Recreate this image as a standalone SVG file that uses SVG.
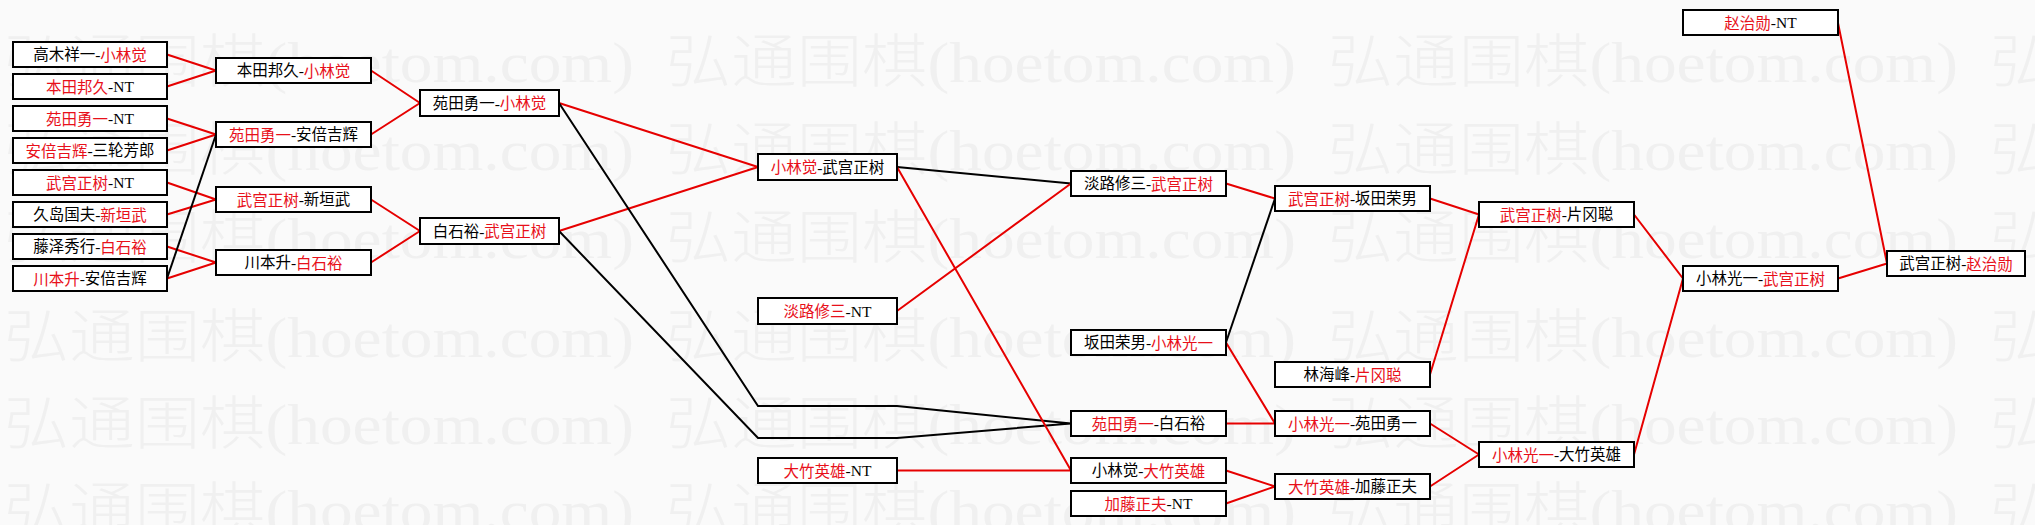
<svg xmlns="http://www.w3.org/2000/svg" width="2035" height="525" viewBox="0 0 2035 525">
<style>
.bg{fill:#fafafa}
.wm{font-family:"Liberation Serif","Noto Sans CJK SC",serif;font-size:58px;font-weight:300;fill:#f0f0f0;dominant-baseline:central}
.box{fill:#ffffff;stroke:#000;stroke-width:2}
.t{font-family:"Liberation Serif","Noto Sans CJK SC",serif;font-size:15.5px;fill:#000;text-anchor:middle;dominant-baseline:central}
.r{fill:#e8101a}
.cr{stroke:#e60000;stroke-width:2;fill:none}
.cb{stroke:#000;stroke-width:2;fill:none}
</style>
<rect class="bg" x="0" y="0" width="2035" height="525"/>
<g id="watermark">
<text class="wm" x="4" y="62" textLength="630" lengthAdjust="spacingAndGlyphs">弘通围棋(hoetom.com)</text>
<text class="wm" x="666" y="62" textLength="630" lengthAdjust="spacingAndGlyphs">弘通围棋(hoetom.com)</text>
<text class="wm" x="1328" y="62" textLength="630" lengthAdjust="spacingAndGlyphs">弘通围棋(hoetom.com)</text>
<text class="wm" x="1990" y="62" textLength="630" lengthAdjust="spacingAndGlyphs">弘通围棋(hoetom.com)</text>
<text class="wm" x="4" y="150" textLength="630" lengthAdjust="spacingAndGlyphs">弘通围棋(hoetom.com)</text>
<text class="wm" x="666" y="150" textLength="630" lengthAdjust="spacingAndGlyphs">弘通围棋(hoetom.com)</text>
<text class="wm" x="1328" y="150" textLength="630" lengthAdjust="spacingAndGlyphs">弘通围棋(hoetom.com)</text>
<text class="wm" x="1990" y="150" textLength="630" lengthAdjust="spacingAndGlyphs">弘通围棋(hoetom.com)</text>
<text class="wm" x="4" y="238" textLength="630" lengthAdjust="spacingAndGlyphs">弘通围棋(hoetom.com)</text>
<text class="wm" x="666" y="238" textLength="630" lengthAdjust="spacingAndGlyphs">弘通围棋(hoetom.com)</text>
<text class="wm" x="1328" y="238" textLength="630" lengthAdjust="spacingAndGlyphs">弘通围棋(hoetom.com)</text>
<text class="wm" x="1990" y="238" textLength="630" lengthAdjust="spacingAndGlyphs">弘通围棋(hoetom.com)</text>
<text class="wm" x="4" y="337" textLength="630" lengthAdjust="spacingAndGlyphs">弘通围棋(hoetom.com)</text>
<text class="wm" x="666" y="337" textLength="630" lengthAdjust="spacingAndGlyphs">弘通围棋(hoetom.com)</text>
<text class="wm" x="1328" y="337" textLength="630" lengthAdjust="spacingAndGlyphs">弘通围棋(hoetom.com)</text>
<text class="wm" x="1990" y="337" textLength="630" lengthAdjust="spacingAndGlyphs">弘通围棋(hoetom.com)</text>
<text class="wm" x="4" y="424" textLength="630" lengthAdjust="spacingAndGlyphs">弘通围棋(hoetom.com)</text>
<text class="wm" x="666" y="424" textLength="630" lengthAdjust="spacingAndGlyphs">弘通围棋(hoetom.com)</text>
<text class="wm" x="1328" y="424" textLength="630" lengthAdjust="spacingAndGlyphs">弘通围棋(hoetom.com)</text>
<text class="wm" x="1990" y="424" textLength="630" lengthAdjust="spacingAndGlyphs">弘通围棋(hoetom.com)</text>
<text class="wm" x="4" y="510" textLength="630" lengthAdjust="spacingAndGlyphs">弘通围棋(hoetom.com)</text>
<text class="wm" x="666" y="510" textLength="630" lengthAdjust="spacingAndGlyphs">弘通围棋(hoetom.com)</text>
<text class="wm" x="1328" y="510" textLength="630" lengthAdjust="spacingAndGlyphs">弘通围棋(hoetom.com)</text>
<text class="wm" x="1990" y="510" textLength="630" lengthAdjust="spacingAndGlyphs">弘通围棋(hoetom.com)</text>
</g>
<g id="connectors">
<path class="cr" d="M167 54.5L216 70.5M167 86.5L216 70.5M167 118.5L216 134.5M167 150.5L216 134.5M167 182.5L216 199.5M167 214.5L216 199.5M167 246.5L216 262.5M167 278.5L216 262.5"/>
<path class="cb" d="M167 278.5L216 134.5"/>
<path class="cr" d="M371 70.5L420 103M371 134.5L420 103M371 199.5L420 231M371 262.5L420 231"/>
<path class="cr" d="M559 103L758 167M559 231L758 167"/>
<path class="cb" d="M559 103L758 406L897 406L1071 423.5M559 231L758 438L897 438L1071 423.5"/>
<path class="cb" d="M897 167L1071 183.5"/>
<path class="cr" d="M897 167L1071 470.5M897 311L1071 183.5M897 470.5L1071 470.5"/>
<path class="cr" d="M1226 183.5L1275 198.5M1226 342.5L1275 423.5M1226 423.5L1275 423.5M1226 470.5L1275 486.5M1226 503.5L1275 486.5"/>
<path class="cb" d="M1226 342.5L1275 198.5"/>
<path class="cr" d="M1430 198.5L1479 214.5M1430 374.5L1479 214.5M1430 423.5L1479 454.5M1430 486.5L1479 454.5"/>
<path class="cr" d="M1634 214.5L1683 278.5M1634 454.5L1683 278.5"/>
<path class="cr" d="M1838 23L1887 263.5M1838 278.5L1887 263.5"/>
</g>
<g id="n1"><rect class="box" x="13" y="42" width="154" height="25"/><text class="t" x="90" y="54.5">高木祥一-<tspan class="r">小林觉</tspan></text></g>
<g id="n2"><rect class="box" x="13" y="74" width="154" height="25"/><text class="t" x="90" y="86.5"><tspan class="r">本田邦久</tspan>-NT</text></g>
<g id="n3"><rect class="box" x="13" y="106" width="154" height="25"/><text class="t" x="90" y="118.5"><tspan class="r">苑田勇一</tspan>-NT</text></g>
<g id="n4"><rect class="box" x="13" y="138" width="154" height="25"/><text class="t" x="90" y="150.5"><tspan class="r">安倍吉辉</tspan>-三轮芳郎</text></g>
<g id="n5"><rect class="box" x="13" y="170" width="154" height="25"/><text class="t" x="90" y="182.5"><tspan class="r">武宫正树</tspan>-NT</text></g>
<g id="n6"><rect class="box" x="13" y="202" width="154" height="25"/><text class="t" x="90" y="214.5">久岛国夫-<tspan class="r">新垣武</tspan></text></g>
<g id="n7"><rect class="box" x="13" y="234" width="154" height="25"/><text class="t" x="90" y="246.5">藤泽秀行-<tspan class="r">白石裕</tspan></text></g>
<g id="n8"><rect class="box" x="13" y="266" width="154" height="25"/><text class="t" x="90" y="278.5"><tspan class="r">川本升</tspan>-安倍吉辉</text></g>
<g id="nA"><rect class="box" x="216" y="58" width="155" height="25"/><text class="t" x="293.5" y="70.5">本田邦久-<tspan class="r">小林觉</tspan></text></g>
<g id="nB"><rect class="box" x="216" y="122" width="155" height="25"/><text class="t" x="293.5" y="134.5"><tspan class="r">苑田勇一</tspan>-安倍吉辉</text></g>
<g id="nC"><rect class="box" x="216" y="187" width="155" height="25"/><text class="t" x="293.5" y="199.5"><tspan class="r">武宫正树</tspan>-新垣武</text></g>
<g id="nD"><rect class="box" x="216" y="250" width="155" height="25"/><text class="t" x="293.5" y="262.5">川本升-<tspan class="r">白石裕</tspan></text></g>
<g id="nE"><rect class="box" x="420" y="90" width="139" height="26"/><text class="t" x="489.5" y="103">苑田勇一-<tspan class="r">小林觉</tspan></text></g>
<g id="nF"><rect class="box" x="420" y="218" width="139" height="26"/><text class="t" x="489.5" y="231">白石裕-<tspan class="r">武宫正树</tspan></text></g>
<g id="nG"><rect class="box" x="758" y="154" width="139" height="26"/><text class="t" x="827.5" y="167"><tspan class="r">小林觉</tspan>-武宫正树</text></g>
<g id="nK"><rect class="box" x="758" y="298" width="139" height="26"/><text class="t" x="827.5" y="311"><tspan class="r">淡路修三</tspan>-NT</text></g>
<g id="nN"><rect class="box" x="758" y="458" width="139" height="25"/><text class="t" x="827.5" y="470.5"><tspan class="r">大竹英雄</tspan>-NT</text></g>
<g id="nI"><rect class="box" x="1071" y="171" width="155" height="25"/><text class="t" x="1148.5" y="183.5">淡路修三-<tspan class="r">武宫正树</tspan></text></g>
<g id="nL"><rect class="box" x="1071" y="330" width="155" height="25"/><text class="t" x="1148.5" y="342.5">坂田荣男-<tspan class="r">小林光一</tspan></text></g>
<g id="nH"><rect class="box" x="1071" y="411" width="155" height="25"/><text class="t" x="1148.5" y="423.5"><tspan class="r">苑田勇一</tspan>-白石裕</text></g>
<g id="nJ"><rect class="box" x="1071" y="458" width="155" height="25"/><text class="t" x="1148.5" y="470.5">小林觉-<tspan class="r">大竹英雄</tspan></text></g>
<g id="nO"><rect class="box" x="1071" y="491" width="155" height="25"/><text class="t" x="1148.5" y="503.5"><tspan class="r">加藤正夫</tspan>-NT</text></g>
<g id="nM"><rect class="box" x="1275" y="186" width="155" height="25"/><text class="t" x="1352.5" y="198.5"><tspan class="r">武宫正树</tspan>-坂田荣男</text></g>
<g id="nQ"><rect class="box" x="1275" y="362" width="155" height="25"/><text class="t" x="1352.5" y="374.5">林海峰-<tspan class="r">片冈聪</tspan></text></g>
<g id="nU"><rect class="box" x="1275" y="411" width="155" height="25"/><text class="t" x="1352.5" y="423.5"><tspan class="r">小林光一</tspan>-苑田勇一</text></g>
<g id="nV"><rect class="box" x="1275" y="474" width="155" height="25"/><text class="t" x="1352.5" y="486.5"><tspan class="r">大竹英雄</tspan>-加藤正夫</text></g>
<g id="nP"><rect class="box" x="1479" y="202" width="155" height="25"/><text class="t" x="1556.5" y="214.5"><tspan class="r">武宫正树</tspan>-片冈聪</text></g>
<g id="nW"><rect class="box" x="1479" y="442" width="155" height="25"/><text class="t" x="1556.5" y="454.5"><tspan class="r">小林光一</tspan>-大竹英雄</text></g>
<g id="nT"><rect class="box" x="1683" y="10" width="155" height="25"/><text class="t" x="1760.5" y="22.5"><tspan class="r">赵治勋</tspan>-NT</text></g>
<g id="nR"><rect class="box" x="1683" y="266" width="155" height="25"/><text class="t" x="1760.5" y="278.5">小林光一-<tspan class="r">武宫正树</tspan></text></g>
<g id="nS"><rect class="box" x="1887" y="251" width="138" height="25"/><text class="t" x="1956" y="263.5">武宫正树-<tspan class="r">赵治勋</tspan></text></g>
</svg>
